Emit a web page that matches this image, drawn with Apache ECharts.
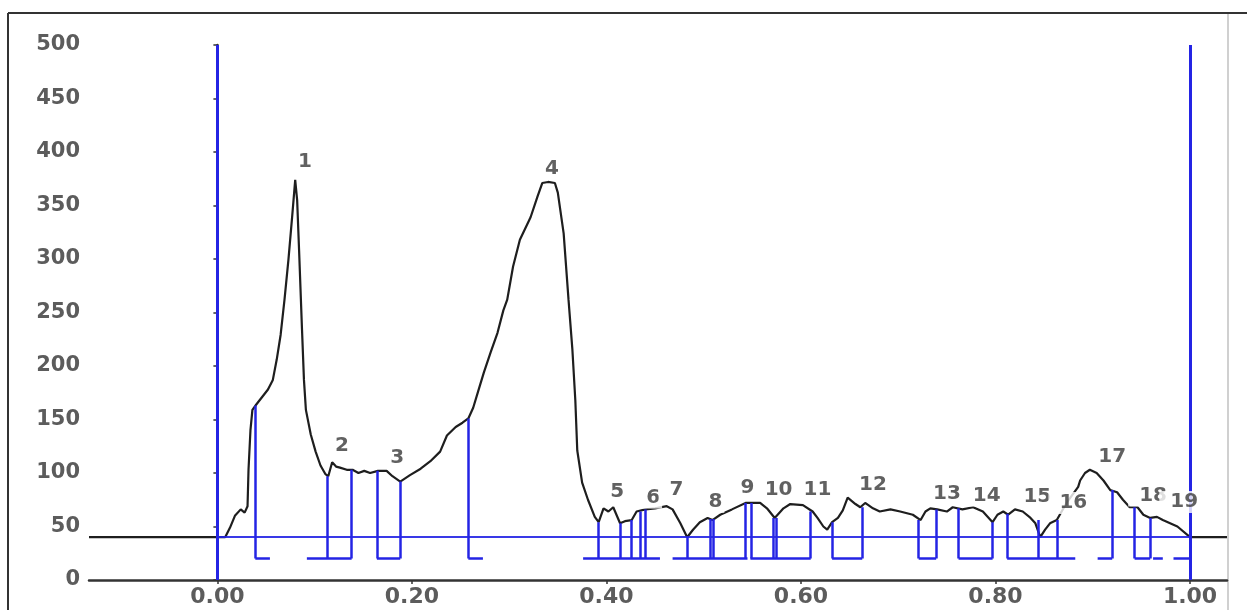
<!DOCTYPE html>
<html>
<head>
<meta charset="utf-8">
<script src="https://cdn.jsdelivr.net/npm/echarts@6/dist/echarts.min.js"></script>
<style>
html,body{margin:0;padding:0;background:#fff;}
#chart{width:1247px;height:610px;}
</style>
</head>
<body>
<div id="chart"></div>
<script>
// ---- Data ----
const curveX = [-0.132,0,0.008,0.013,0.018,0.024,0.028,0.031,0.032,0.034,0.036,0.040,0.046,0.052,0.057,0.061,0.065,0.069,0.073,0.077,0.080,0.082,0.084,0.087,0.089,0.091,0.096,0.101,0.106,0.111,0.114,0.118,0.122,0.126,0.133,0.139,0.145,0.151,0.157,0.165,0.174,0.180,0.188,0.198,0.209,0.219,0.229,0.236,0.245,0.252,0.258,0.263,0.268,0.274,0.281,0.288,0.294,0.298,0.304,0.311,0.322,0.329,0.334,0.340,0.347,0.350,0.356,0.361,0.365,0.368,0.370,0.375,0.381,0.388,0.392,0.397,0.402,0.407,0.414,0.419,0.426,0.431,0.440,0.450,0.462,0.468,0.476,0.483,0.489,0.496,0.504,0.509,0.517,0.529,0.543,0.558,0.565,0.573,0.582,0.589,0.602,0.612,0.617,0.623,0.627,0.632,0.638,0.643,0.648,0.656,0.661,0.666,0.674,0.681,0.692,0.702,0.715,0.723,0.728,0.733,0.740,0.750,0.756,0.766,0.777,0.787,0.797,0.802,0.808,0.813,0.820,0.828,0.836,0.841,0.846,0.851,0.856,0.863,0.873,0.885,0.887,0.892,0.897,0.904,0.911,0.918,0.925,0.931,0.938,0.946,0.952,0.959,0.966,0.972,0.987,1.000,1.038];
const curveY = [40,40,40,49,60,66,63,69,103,140,159,164,171,178,187,206,229,262,299,341,374,355,308,234,187,159,136,120,107,99,97,110,106,105,103,103,100,102,100,102,102,97,92,98,104,111,120,135,143,147,151,161,176,194,213,231,252,262,293,318,339,358,371,372,371,362,324,262,215,168,121,91,75,59,54,67,64,68,53,55,56,64,66,67,69,66,53,40,47,54,58,56,61,66,72,72,67,58,67,71,70,64,58,50,47,54,58,65,77,71,68,72,67,64,66,64,61,56,64,67,66,64,68,66,68,64,54,61,64,61,66,64,58,53,40,47,53,56,72,87,93,100,103,100,93,84,82,75,68,68,61,58,59,56,50,40,40];

const baselineValue = 40;
const bracketValue = 20;
const scanStart = 0;
const scanEnd = 1;
const scanTop = 500;

// peak boundary verticals: position and top value
const boundaryX   = [0.039,0.113,0.138,0.164,0.188,0.258,0.392,0.414,0.425,0.435,0.440,0.483,0.507,0.510,0.543,0.549,0.572,0.575,0.610,0.632,0.663,0.721,0.739,0.762,0.797,0.812,0.844,0.863,0.920,0.943,0.959];
const boundaryTop = [163,97,103,102,92,151,54,53,56,64,66,40,57,57,72,72,58,58,64,54,68,56,66,67,54,62,56,56,84,68,58];

// horizontal bracket segments at bracketValue
const bracketStart = [0.039,0.092,0.164,0.258,0.376,0.468,0.548,0.632,0.721,0.762,0.812,0.905,0.943,0.962,0.983];
const bracketEnd   = [0.054,0.138,0.188,0.273,0.455,0.545,0.610,0.663,0.739,0.797,0.882,0.920,0.959,0.972,1.000];

// peak labels
const peakNames  = ['1','2','3','4','5','6','7','8','9','10','11','12','13','14','15','16','17','18','19'];
const peakLabelX = [0.090,0.128,0.185,0.344,0.411,0.448,0.472,0.512,0.545,0.577,0.617,0.674,0.750,0.791,0.843,0.880,0.920,0.962,0.994];
const peakLabelY = [391,125,114,384,82,77,84,73,86,84,84,89,81,79,78,72,115,79,73];

const xTicks = [0, 0.2, 0.4, 0.6, 0.8, 1.0];
const xMin = -0.132, xMax = 1.038;
const yMin = 0, yMax = 500, yInterval = 50;

// ---- Build ----
const BLUE = '#2424e4';
const curveData = curveX.map((x, i) => [x, curveY[i]]);
const verticalLines = boundaryX.map((x, i) => ({ coords: [[x, bracketValue], [x, boundaryTop[i]]] }));
const bracketLines = bracketStart.map((s, i) => ({ coords: [[s, bracketValue], [bracketEnd[i], bracketValue]] }));
const labelData = peakNames.map((n, i) => ({ value: [peakLabelX[i], peakLabelY[i]], name: n }));

const chart = echarts.init(document.getElementById('chart'), null, { renderer: 'canvas' });
chart.setOption({
  animation: false,
  backgroundColor: '#fff',
  grid: { left: 89, right: 20, top: 45, bottom: 30, containLabel: false },
  xAxis: {
    type: 'value', min: xMin, max: xMax,
    axisLine: { show: true, onZero: false, lineStyle: { color: '#333', width: 2.5 } },
    axisTick: { show: true, customValues: xTicks, length: 4, lineStyle: { color: '#333', width: 1.5 } },
    axisLabel: { customValues: xTicks, formatter: v => Number(v).toFixed(2), color: '#5c5c5c', fontSize: 22, fontWeight: 'bold', fontFamily: 'DejaVu Sans', margin: 6 },
    splitLine: { show: false }
  },
  yAxis: {
    type: 'value', min: yMin, max: yMax, interval: yInterval,
    axisLine: { show: true, lineStyle: { color: '#333', width: 2.5 } },
    axisTick: { show: true, length: 4, lineStyle: { color: '#333', width: 1.5 } },
    axisLabel: { color: '#5c5c5c', fontSize: 21, fontWeight: 'bold', fontFamily: 'DejaVu Sans', margin: 9 },
    splitLine: { show: false }
  },
  graphic: [
    { type: 'line', shape: { x1: 8, y1: 13, x2: 1247, y2: 13 }, style: { stroke: '#333', lineWidth: 2 }, silent: true },
    { type: 'line', shape: { x1: 8, y1: 13, x2: 8, y2: 610 }, style: { stroke: '#333', lineWidth: 2 }, silent: true },
    { type: 'line', shape: { x1: 1228, y1: 14, x2: 1228, y2: 610 }, style: { stroke: '#d0d0d0', lineWidth: 2 }, silent: true }
  ],
  series: [
    {
      type: 'line', data: curveData, showSymbol: false, smooth: false,
      lineStyle: { color: '#1e1e1e', width: 2.2 }, z: 2
    },
    {
      type: 'lines', coordinateSystem: 'cartesian2d', polyline: false,
      data: [{ coords: [[scanStart, baselineValue], [scanEnd, baselineValue]] }],
      lineStyle: { color: BLUE, width: 2, opacity: 0.9 }, z: 3
    },
    {
      type: 'lines', coordinateSystem: 'cartesian2d',
      data: verticalLines.concat(bracketLines),
      lineStyle: { color: BLUE, width: 2.5, opacity: 1 }, z: 3
    },
    {
      type: 'lines', coordinateSystem: 'cartesian2d',
      data: [
        { coords: [[scanStart, yMin], [scanStart, scanTop]] },
        { coords: [[scanEnd, yMin], [scanEnd, scanTop]] }
      ],
      lineStyle: { color: BLUE, width: 3, opacity: 1 }, z: 3
    },
    {
      type: 'scatter', data: labelData, symbolSize: 1,
      itemStyle: { color: 'rgba(0,0,0,0)' }, z: 5,
      label: {
        show: true, position: 'inside', formatter: p => p.name,
        color: '#3a3a3a', fontSize: 20, fontWeight: 'bold', fontFamily: 'DejaVu Sans',
        backgroundColor: '#fff', padding: [1, 2, 1, 11], offset: [-4.5, 0]
      }
    }
  ]
});
</script>
</body>
</html>
